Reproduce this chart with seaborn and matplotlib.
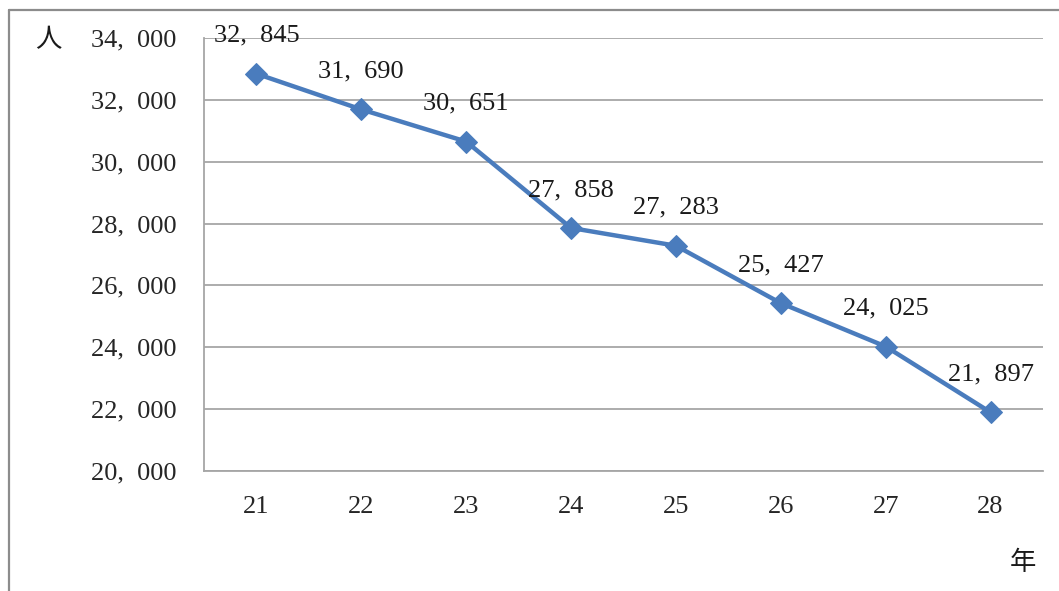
import matplotlib
matplotlib.use("Agg")
import matplotlib.pyplot as plt
from matplotlib.lines import Line2D
from matplotlib.ticker import FixedLocator, FuncFormatter
import seaborn as sns
import pandas as pd

years = ["21", "22", "23", "24", "25", "26", "27", "28"]
people = [32845, 31690, 30651, 27858, 27283, 25427, 24025, 21897]
y_ticks = [20000, 22000, 24000, 26000, 28000, 30000, 32000, 34000]

sns.set_style("white")
plt.rcParams["font.family"] = ["Liberation Serif", "Noto Sans CJK JP"]

line_color = "#4a7cbd"
grid_color = "#a6a6a6"
num_size = 19

df = pd.DataFrame({"year": years, "people": people})
df["pos"] = range(len(years))

fig = plt.figure(figsize=(10.59, 5.91), dpi=100)
ax = fig.add_axes([204 / 1059, 1 - 471 / 591, (1043 - 204) / 1059, (471 - 38) / 591])

sns.lineplot(data=df, x="pos", y="people", ax=ax, color=line_color, linewidth=3.2,
             marker="D", markersize=11, markeredgecolor=line_color, zorder=3)

ax.set_xlim(-0.5, len(years) - 0.5)
ax.set_ylim(20000, 34000)

def fmt(v):
    # thousands separator followed by a wide gap
    return "{:,}".format(int(v)).replace(",", ",  ")

ax.yaxis.set_major_locator(FixedLocator(y_ticks))
ax.yaxis.set_major_formatter(FuncFormatter(lambda v, p: fmt(v)))
ax.xaxis.set_major_locator(FixedLocator(list(range(len(years)))))
ax.set_xticklabels(years)
ax.xaxis.set_minor_locator(FixedLocator([i - 0.5 for i in range(len(years) + 1)]))

ax.tick_params(axis="x", which="major", length=0, pad=18, labelsize=num_size)
ax.tick_params(axis="x", which="minor", length=8, width=1.3, color=grid_color)
ax.tick_params(axis="y", which="major", length=8, width=1.3, color=grid_color,
               pad=12, labelsize=num_size)

ax.grid(axis="y", color=grid_color, linewidth=1.3)
ax.set_axisbelow(True)
for side in ["top", "right"]:
    ax.spines[side].set_visible(False)
for side in ["left", "bottom"]:
    ax.spines[side].set_color(grid_color)
    ax.spines[side].set_linewidth(1.3)

ax.set_xlabel("")
ax.set_ylabel("")

for x, v in zip(df["pos"], people):
    ax.annotate(fmt(v), (x, v), xytext=(0, 38), textcoords="offset pixels",
                ha="center", va="center", fontsize=num_size, color="#1a1a1a")

fig.text(48 / 1059, 1 - 40 / 591, "人", fontsize=num_size, ha="center", va="center",
         family=["Noto Sans CJK JP"], color="#1a1a1a")
fig.text(1023 / 1059, 1 - 563 / 591, "年", fontsize=num_size, ha="center", va="center",
         family=["Noto Sans CJK JP"], color="#1a1a1a")

# outer frame (top and left edges)
fig.add_artist(Line2D([9 / 1059, 1.0], [1 - 10 / 591, 1 - 10 / 591],
                      transform=fig.transFigure, color="#8c8c8c", linewidth=1.6))
fig.add_artist(Line2D([9 / 1059, 9 / 1059], [0.0, 1 - 10 / 591],
                      transform=fig.transFigure, color="#8c8c8c", linewidth=1.6))

fig.savefig("out.png", dpi=100, facecolor="white")
